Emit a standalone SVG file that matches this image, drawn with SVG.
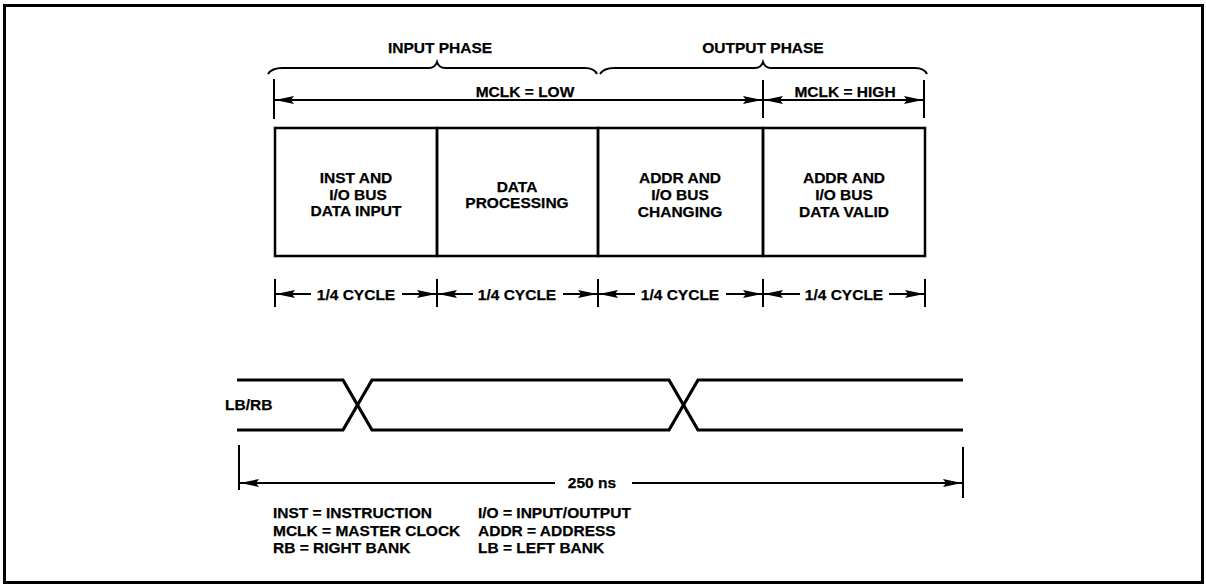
<svg xmlns="http://www.w3.org/2000/svg" width="1206" height="584" viewBox="0 0 1206 584">
<style>
text{font-family:"Liberation Sans",Arial,sans-serif;font-weight:bold;font-size:15.5px;fill:#000;stroke:#000;stroke-width:0.25}
.c{text-anchor:middle}
.ln{stroke:#000;stroke-width:2;fill:none}
.thk{stroke:#000;stroke-width:3.2;fill:none}
.box{stroke:#000;stroke-width:2.5;fill:none}
.arr{stroke:#000;stroke-width:2;fill:none;marker-end:url(#ah)}
</style>
<defs>
<marker id="ah" viewBox="0 0 19 10" refX="19" refY="5" markerWidth="19" markerHeight="10" markerUnits="userSpaceOnUse" orient="auto">
<path d="M0,1 L19,5 L0,9 L3,5 Z" fill="#000"/>
</marker>
</defs>
<rect x="4.5" y="5.5" width="1198" height="577" fill="none" stroke="#000" stroke-width="3"/>

<g id="phase-labels">
<text class="c" x="440" y="53">INPUT PHASE</text>
<text class="c" x="763" y="53">OUTPUT PHASE</text>
<path class="ln" d="M268,74 Q272,68 282,68 L429,68 Q435,68 437,62 Q439,68 445,68 L585,68 Q594,68 597,74"/>
<path class="ln" d="M600,74 Q604,68 614,68 L755,68 Q761,68 763,62 Q765,68 771,68 L915,68 Q924,68 927,74"/>
</g>

<g id="mclk">
<text class="c" x="525" y="97">MCLK = LOW</text>
<text class="c" x="845" y="97">MCLK = HIGH</text>
</g>

<g id="box1">
<rect class="box" x="275" y="128" width="162" height="128"/>
<text class="c" x="356" y="183">INST AND</text>
<text class="c" x="358" y="200">I/O BUS</text>
<text class="c" x="356" y="216">DATA INPUT</text>
</g>
<g id="box2">
<rect class="box" x="437" y="128" width="161" height="128"/>
<text class="c" x="517" y="192">DATA</text>
<text class="c" x="517" y="208">PROCESSING</text>
</g>
<g id="box3">
<rect class="box" x="598" y="128" width="165" height="128"/>
<text class="c" x="680" y="183">ADDR AND</text>
<text class="c" x="680" y="200">I/O BUS</text>
<text class="c" x="680" y="217">CHANGING</text>
</g>
<g id="box4">
<rect class="box" x="763" y="128" width="162" height="128"/>
<text class="c" x="844" y="183">ADDR AND</text>
<text class="c" x="844" y="200">I/O BUS</text>
<text class="c" x="844" y="217">DATA VALID</text>
</g>

<g id="cycle-labels">
<text class="c" x="356" y="300">1/4 CYCLE</text>
<text class="c" x="517" y="300">1/4 CYCLE</text>
<text class="c" x="680" y="300">1/4 CYCLE</text>
<text class="c" x="844" y="300">1/4 CYCLE</text>
</g>

<g id="signal">
<text x="225" y="410">LB/RB</text>
<path class="thk" d="M237,380 L343,380 L372,430 L669,430 L698,380 L963,380"/>
<path class="thk" d="M237,430 L343,430 L372,380 L669,380 L698,430 L963,430"/>
</g>

<g id="period">
<text class="c" x="592" y="488">250 ns</text>
</g>

<g id="legend">
<text x="273" y="518">INST = INSTRUCTION</text>
<text x="273" y="536">MCLK = MASTER CLOCK</text>
<text x="273" y="553">RB = RIGHT BANK</text>
<text x="478" y="518">I/O = INPUT/OUTPUT</text>
<text x="478" y="536">ADDR = ADDRESS</text>
<text x="478" y="553">LB = LEFT BANK</text>
</g>

<g id="connectors">
<line class="ln" x1="274" y1="79" x2="274" y2="119"/>
<line class="ln" x1="763" y1="80" x2="763" y2="118"/>
<line class="ln" x1="924" y1="80" x2="924" y2="118"/>
<line class="arr" x1="520" y1="100" x2="275" y2="100"/>
<line class="arr" x1="520" y1="100" x2="762" y2="100"/>
<line class="arr" x1="845" y1="100" x2="764" y2="100"/>
<line class="arr" x1="845" y1="100" x2="923" y2="100"/>

<line class="ln" x1="275" y1="279" x2="275" y2="307"/>
<line class="ln" x1="437" y1="279" x2="437" y2="307"/>
<line class="ln" x1="598" y1="279" x2="598" y2="307"/>
<line class="ln" x1="763" y1="279" x2="763" y2="307"/>
<line class="ln" x1="925" y1="279" x2="925" y2="307"/>
<line class="arr" x1="311" y1="294" x2="276" y2="294"/>
<line class="arr" x1="402" y1="294" x2="436" y2="294"/>
<line class="arr" x1="473" y1="294" x2="438" y2="294"/>
<line class="arr" x1="563" y1="294" x2="597" y2="294"/>
<line class="arr" x1="635" y1="294" x2="599" y2="294"/>
<line class="arr" x1="726" y1="294" x2="762" y2="294"/>
<line class="arr" x1="800" y1="294" x2="764" y2="294"/>
<line class="arr" x1="889" y1="294" x2="924" y2="294"/>

<line class="ln" x1="239" y1="445" x2="239" y2="490"/>
<line class="ln" x1="963" y1="447" x2="963" y2="498"/>
<line class="arr" x1="555" y1="483" x2="240" y2="483"/>
<line class="arr" x1="632" y1="483" x2="962" y2="483"/>
</g>
</svg>
